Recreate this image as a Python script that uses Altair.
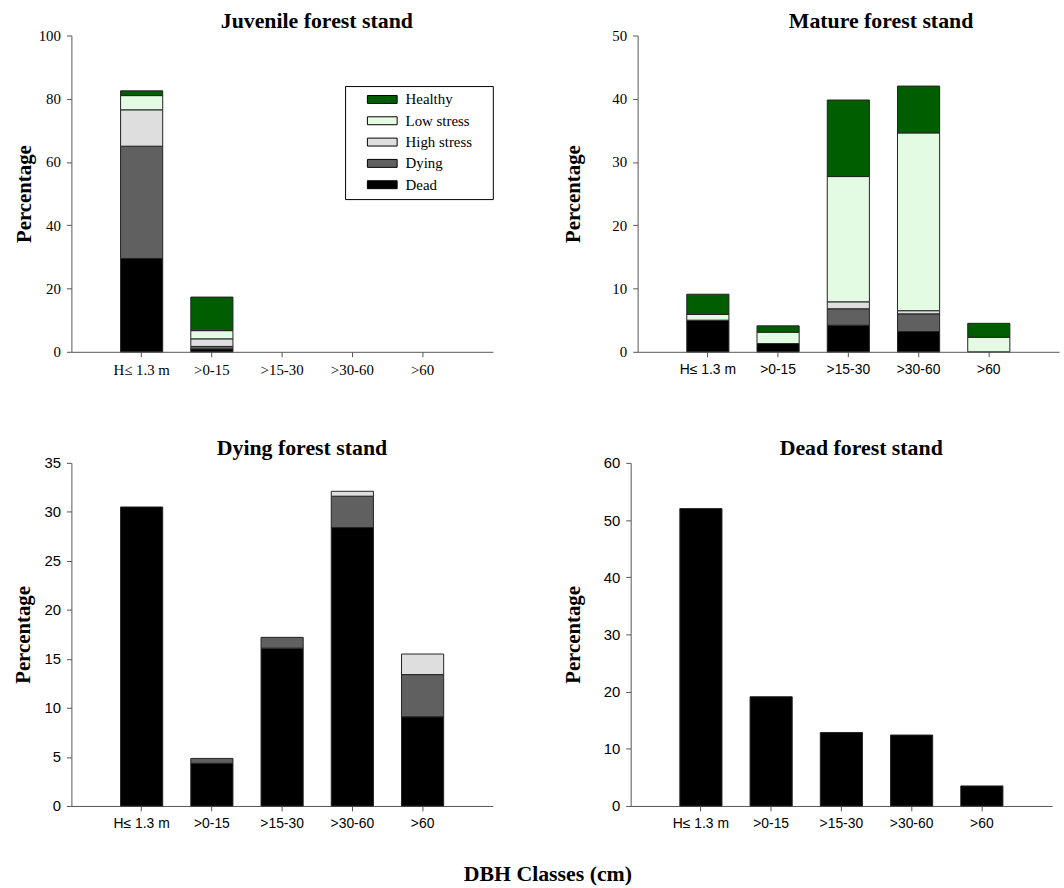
import altair as alt
import pandas as pd

classes = ["H\u2264 1.3 m", ">0-15", ">15-30", ">30-60", ">60"]
statuses = ["Healthy", "Low stress", "High stress", "Dying", "Dead"]
status_colors = ["#005e00", "#e2fbe2", "#dedede", "#606060", "#000000"]
stack_order = {"Dead": 0, "Dying": 1, "High stress": 2, "Low stress": 3, "Healthy": 4}

# Juvenile forest stand
juv_dead = [29.5, 0.9, 0, 0, 0]
juv_dying = [35.5, 0.8, 0, 0, 0]
juv_high = [11.5, 2.4, 0, 0, 0]
juv_low = [4.5, 2.6, 0, 0, 0]
juv_healthy = [1.5, 10.6, 0, 0, 0]

# Mature forest stand
mat_dead = [5.0, 1.3, 4.2, 3.2, 0]
mat_dying = [0, 0, 2.6, 2.8, 0]
mat_high = [0, 0, 1.1, 0.5, 0]
mat_low = [0.9, 1.8, 19.8, 28.1, 2.3]
mat_healthy = [3.2, 1.0, 12.1, 7.4, 2.2]

# Dying forest stand
dyi_dead = [30.5, 4.35, 16.1, 28.4, 9.1]
dyi_dying = [0, 0.5, 1.1, 3.2, 4.3]
dyi_high = [0, 0, 0, 0.5, 2.1]
dyi_low = [0, 0, 0, 0, 0]
dyi_healthy = [0, 0, 0, 0, 0]

# Dead forest stand
ded_dead = [52.0, 19.1, 12.85, 12.4, 3.5]
ded_dying = [0, 0, 0, 0, 0]
ded_high = [0, 0, 0, 0, 0]
ded_low = [0, 0, 0, 0, 0]
ded_healthy = [0, 0, 0, 0, 0]

SERIF = "Liberation Serif"
SANS = "Liberation Sans"


def frame(dead, dying, high, low, healthy):
    rows = []
    series = {"Dead": dead, "Dying": dying, "High stress": high,
              "Low stress": low, "Healthy": healthy}
    for status, vals in series.items():
        for c, v in zip(classes, vals):
            if v > 0:
                rows.append({"cls": c, "status": status, "value": v,
                             "ord": stack_order[status]})
    return pd.DataFrame(rows)


def panel(df, title, ymax, ystep, height, yfont, xfont, ylabsize, xlabsize,
          title_dx, ytitle_pad, legend=False):
    if legend:
        leg = alt.Legend(
            title="MM", titleOrient="right", titleOpacity=0, titleFontSize=8,
            titlePadding=1,
            orient="none", legendX=276, legendY=51,
            strokeColor="black", fillColor="white", padding=6,
            symbolType="M-3,-0.8L3,-0.8L3,0.8L-3,0.8Z",
            symbolSize=100, symbolStrokeColor="black", symbolStrokeWidth=1,
            labelFont=SERIF, labelFontSize=15, labelColor="black",
            labelOffset=16, rowPadding=5.5, labelLimit=200,
            symbolOffset=24,
        )
    else:
        leg = None
    return alt.Chart(df).mark_bar(stroke="#222222", strokeWidth=1).encode(
        x=alt.X("cls:N", sort=classes,
                scale=alt.Scale(domain=classes, paddingInner=0.4, paddingOuter=0.7),
                axis=alt.Axis(title=None, labelAngle=0, labelFont=xfont,
                              labelFontSize=xlabsize, labelColor="black",
                              tickSize=5, labelPadding=6,
                              domainColor="#555555", tickColor="#555555")),
        y=alt.Y("value:Q", stack="zero",
                scale=alt.Scale(domain=[0, ymax], nice=False),
                axis=alt.Axis(title="Percentage", values=list(range(0, ymax + 1, ystep)),
                              grid=False, labelFont=yfont, labelFontSize=ylabsize,
                              labelColor="black", tickSize=5, labelPadding=6,
                              minExtent=30, maxExtent=30,
                              titleFont=SERIF, titleFontSize=21, titleFontWeight="bold",
                              titleColor="black", titlePadding=ytitle_pad,
                              domainColor="#555555", tickColor="#555555")),
        color=alt.Color("status:N",
                        scale=alt.Scale(domain=statuses, range=status_colors),
                        legend=leg),
        order=alt.Order("ord:Q", sort="ascending"),
    ).properties(
        width=425, height=height,
        title=alt.TitleParams(title, font=SERIF, fontSize=22, fontWeight="bold",
                              color="black", anchor="middle", dx=title_dx, offset=-4),
    )


juv = panel(frame(juv_dead, juv_dying, juv_high, juv_low, juv_healthy),
            "Juvenile forest stand", 100, 20, 319, SERIF, SERIF, 15, 15, 35, 7, legend=True)
mat = panel(frame(mat_dead, mat_dying, mat_high, mat_low, mat_healthy),
            "Mature forest stand", 50, 10, 319, SERIF, SANS, 15, 14, 33, 25)
dyi = panel(frame(dyi_dead, dyi_dying, dyi_high, dyi_low, dyi_healthy),
            "Dying forest stand", 35, 5, 346, SANS, SANS, 15, 14, 20, 8)
ded = panel(frame(ded_dead, ded_dying, ded_high, ded_low, ded_healthy),
            "Dead forest stand", 60, 10, 346, SANS, SANS, 15, 14, 20, 18)

top = alt.hconcat(juv, mat, spacing=69).resolve_scale(color="independent").resolve_legend(color="independent")
bottom = alt.hconcat(dyi, ded, spacing=70).resolve_scale(color="independent").resolve_legend(color="independent")

chart = alt.vconcat(top, bottom, spacing=60).resolve_scale(
    color="independent").resolve_legend(color="independent").properties(
    title=alt.TitleParams("DBH Classes (cm)", orient="bottom", anchor="middle",
                          font=SERIF, fontSize=22, fontWeight="bold", color="black",
                          offset=34, dx=12),
    padding={"left": 13, "top": 6, "right": 5, "bottom": 5},
    background="white",
).configure_view(strokeWidth=0)

chart.save("out.html", embed_options={"renderer": "svg", "actions": False})
